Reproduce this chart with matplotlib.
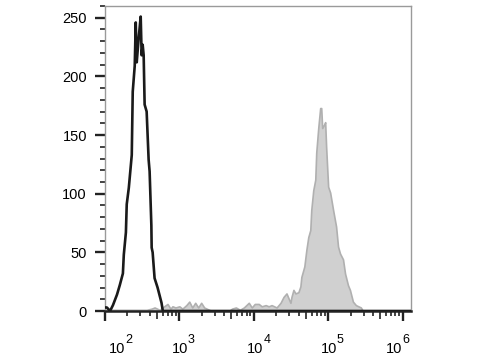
import math
import matplotlib
matplotlib.use("Agg")
import matplotlib.pyplot as plt
import matplotlib.transforms as mtransforms
from matplotlib.ticker import LogLocator, NullFormatter, MultipleLocator

plt.rcParams['font.family'] = ['Liberation Sans', 'DejaVu Sans']

# unstained control (black outline)
ctrl_x = [100, 106, 117, 128, 145, 158, 174, 179, 191, 196, 209, 229, 236, 251,
          259, 267, 284, 302, 311, 321, 331, 341, 363, 386, 398, 420, 424, 437,
          464, 509, 575, 599, 1300000]
ctrl_y = [3, 3, 0, 5, 14, 22, 32, 48, 67, 91, 105, 133, 187, 209,
          246, 212, 233, 251, 218, 227, 218, 176, 170, 129, 119, 73, 54, 50,
          28, 20, 7, 0, 0]

# stained sample (grey filled)
stain_x = [100, 363, 424, 464, 541, 593, 692, 759, 807, 885, 1000, 1096,
           1240, 1358, 1489, 1633, 1791, 1963, 2154, 2512, 2754, 4642, 5093,
           5754, 6501, 7362, 8570, 9400, 10310, 11670, 12790, 14450, 15850,
           17380, 20260, 22910, 25120, 27540, 31120, 32140, 34150, 36310,
           39810, 42360, 43650, 47860, 50930, 54080, 57540, 59290, 63100,
           67140, 69180, 73620, 78160, 80720, 83180, 88510, 91200, 93970,
           100000, 106400, 116700, 127900, 135800, 144500, 158500, 168700,
           184800, 196300, 215300, 236000, 275400, 293100, 1300000]
stain_y = [1, 1, 2, 3, 1, 3, 6, 2, 4, 3, 4, 2,
           5, 8, 3, 7, 3, 7, 3, 1, 0, 0, 2,
           3, 1, 3, 7, 3, 6, 6, 4, 5, 4,
           5, 3, 7, 12, 15, 7, 12, 18, 15,
           16, 21, 29, 38, 52, 63, 69, 86, 103,
           112, 135, 156, 173, 173, 156, 159, 161, 140,
           106, 101, 86, 72, 55, 49, 44, 32,
           22, 18, 8, 5, 3, 0, 0]

xticks = [1e2, 1e3, 1e4, 1e5, 1e6]
xexps = ['2', '3', '4', '5', '6']
xshift = [12.5, 0.5, 1.5, 0.5, -8.5]   # label offsets from the tick, pixels
yticks = [0, 50, 100, 150, 200, 250]


def plot_histograms():
    fig = plt.figure(figsize=(4.8, 3.6), dpi=100)
    ax = fig.add_axes([0.21875, 0.1361, 0.6375, 0.8472])

    ax.fill_between(stain_x, stain_y, 0, facecolor='#d0d0d0',
                    edgecolor='#b0b0b0', linewidth=1.2, zorder=2)
    ax.plot(ctrl_x, ctrl_y, color='#1a1a1a', linewidth=1.9, zorder=3)

    ax.set_xscale('log')
    ax.set_xlim(100, 1.3e6)
    ax.set_ylim(0, 260)

    ax.set_xticks(xticks)
    ax.set_xticklabels([''] * len(xticks))
    ax.xaxis.set_minor_locator(LogLocator(base=10, subs=range(2, 10), numticks=20))
    ax.xaxis.set_minor_formatter(NullFormatter())

    ax.set_yticks(yticks)
    ax.set_yticklabels([str(v) for v in yticks], fontsize=10.5)
    ax.yaxis.set_minor_locator(MultipleLocator(10))

    ax.tick_params(which='major', direction='out', length=7, width=1.7,
                   color='#222222')
    ax.tick_params(which='minor', direction='out', length=3.5, width=1.2,
                   color='#222222')
    ax.tick_params(axis='y', which='major', pad=6)

    # 10^n labels: big exponent raised well above the base
    trans = mtransforms.blended_transform_factory(ax.transData, ax.transAxes)
    px = 0.72
    for xt, e, dx in zip(xticks, xexps, xshift):
        ax.annotate('10', xy=(xt, 0), xycoords=trans,
                    xytext=(dx * px, -42 * px), textcoords='offset points',
                    ha='center', va='baseline', fontsize=10.5, annotation_clip=False)
        ax.annotate(e, xy=(xt, 0), xycoords=trans,
                    xytext=((dx + 8) * px, -23 * px), textcoords='offset points',
                    ha='left', va='top', fontsize=9, annotation_clip=False)

    # the 5x ticks are a bit longer than the other minor ones
    fig.canvas.draw()
    for tick in ax.xaxis.get_minor_ticks():
        loc = tick.get_loc()
        if loc <= 0:
            continue
        mant = loc / 10 ** math.floor(math.log10(loc) + 1e-9)
        if abs(mant - 5) < 0.01:
            tick.tick1line.set_markersize(5.5)

    for side in ['left', 'top', 'right']:
        ax.spines[side].set_color('#9a9a9a')
        ax.spines[side].set_linewidth(1.0)
    ax.spines['bottom'].set_color('#222222')
    ax.spines['bottom'].set_linewidth(1.8)

    fig.savefig('out.png', dpi=100)


if __name__ == "__main__":
    plot_histograms()
